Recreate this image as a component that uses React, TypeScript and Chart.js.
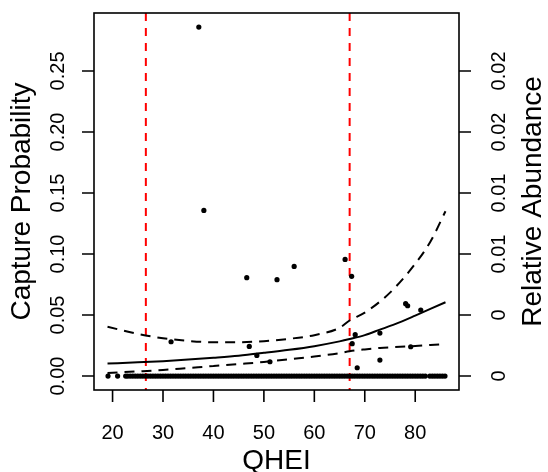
import React, { useEffect, useRef } from "react";
import { Chart, registerables } from "chart.js";

Chart.register(...registerables);

// ---- data ----
const xTicks = [20, 30, 40, 50, 60, 70, 80];
const leftTicks = [0, 0.05, 0.1, 0.15, 0.2, 0.25];
const leftTickLabels = ["0.00", "0.05", "0.10", "0.15", "0.20", "0.25"];
const rightTickLabels = ["0", "0", "0.01", "0.01", "0.02", "0.02"];
const thresholds = [26.6, 67.0];

// observed sites with a capture (QHEI, capture probability)
const hitQHEI = [37.1, 38.1, 46.6, 52.6, 56.0, 66.1, 67.4, 31.6, 47.1, 48.6, 51.2, 68.1, 67.5, 68.5, 73.0, 73.0, 78.1, 78.5, 81.1, 79.1];
const hitProb = [0.286, 0.1357, 0.0806, 0.079, 0.0898, 0.0956, 0.0817, 0.0281, 0.0243, 0.0169, 0.0117, 0.0339, 0.0265, 0.0068, 0.0352, 0.0131, 0.0593, 0.0576, 0.0541, 0.024];

// sites with no capture (QHEI)
const zeroQHEI = [
  19.1, 21.0, 22.6, 23.0, 23.5, 24.0, 24.5, 25.0, 25.5, 26.0, 26.5, 27.0, 27.5, 28.0, 28.5, 29.0, 29.5,
  30.0, 30.5, 31.0, 31.5, 32.0, 32.5, 33.0, 33.5, 34.0, 34.5, 35.0, 35.5, 36.0, 36.5, 37.0, 37.5,
  38.0, 38.5, 39.0, 39.5, 40.0, 40.5, 41.0, 41.5, 42.0, 42.5, 43.0, 43.5, 44.0, 44.5, 45.0, 45.5,
  46.0, 46.5, 47.0, 47.5, 48.0, 48.5, 49.0, 49.5, 50.0, 50.5, 51.0, 51.5, 52.0, 52.5, 53.0, 53.5,
  54.0, 54.5, 55.0, 55.5, 56.0, 56.5, 57.0, 57.5, 58.0, 58.5, 59.0, 59.5, 60.0, 60.5, 61.0, 61.5,
  62.0, 62.5, 63.0, 63.5, 64.0, 64.5, 65.0, 65.5, 66.0, 66.5, 67.0, 67.5, 68.0, 68.5, 69.0, 69.5,
  70.0, 70.5, 71.0, 71.5, 72.0, 72.5, 73.0, 73.5, 74.0, 74.5, 75.0, 75.5, 76.0, 76.5, 77.0, 77.5,
  78.0, 78.5, 79.0, 79.5, 80.0, 80.5, 81.0, 81.5, 82.0, 82.9, 83.4, 83.9, 84.4, 84.9, 85.4, 85.9,
];

// fitted curve and confidence band
const curveQHEI = [19, 25, 30, 35, 40, 45, 50, 55, 60, 65, 67, 70, 73, 76, 80, 83, 86];
const fitProb = [0.0102, 0.0112, 0.0122, 0.0135, 0.015, 0.0167, 0.019, 0.0215, 0.0245, 0.0284, 0.0303, 0.0335, 0.038, 0.0425, 0.0495, 0.055, 0.0605];
const upperProb = [0.0404, 0.0345, 0.031, 0.0288, 0.0277, 0.0277, 0.0286, 0.0305, 0.0335, 0.0395, 0.0455, 0.052, 0.061, 0.0725, 0.092, 0.11, 0.135];
const lowerProb = [0.0025, 0.0038, 0.005, 0.0066, 0.0082, 0.0098, 0.0115, 0.0138, 0.016, 0.0188, 0.0203, 0.0218, 0.023, 0.0238, 0.0246, 0.0254, 0.0262];

const FONT = '"Liberation Sans", Arial, Helvetica, sans-serif';

const axesPlugin = {
  id: "rAxes",
  afterDraw(chart: any) {
    const { ctx, chartArea: a, scales } = chart;
    const xs = scales.x;
    const ys = scales.y;
    ctx.save();
    ctx.strokeStyle = "#000";
    ctx.fillStyle = "#000";
    ctx.lineWidth = 1.6;
    ctx.strokeRect(a.left, a.top, a.right - a.left, a.bottom - a.top);
    // x axis
    ctx.font = `20px ${FONT}`;
    ctx.textAlign = "center";
    ctx.textBaseline = "alphabetic";
    ctx.beginPath();
    xTicks.forEach((t) => {
      const px = xs.getPixelForValue(t);
      ctx.moveTo(px, a.bottom);
      ctx.lineTo(px, a.bottom + 12);
    });
    ctx.stroke();
    xTicks.forEach((t) => {
      ctx.fillText(String(t), xs.getPixelForValue(t), 439);
    });
    // y ticks both sides
    ctx.beginPath();
    leftTicks.forEach((t) => {
      const py = ys.getPixelForValue(t);
      ctx.moveTo(a.left, py);
      ctx.lineTo(a.left - 12, py);
      ctx.moveTo(a.right, py);
      ctx.lineTo(a.right + 12, py);
    });
    ctx.stroke();
    leftTicks.forEach((t, i) => {
      const py = ys.getPixelForValue(t);
      ctx.save();
      ctx.translate(63.5, py);
      ctx.rotate(-Math.PI / 2);
      ctx.fillText(leftTickLabels[i], 0, 0);
      ctx.restore();
      ctx.save();
      ctx.translate(505, py);
      ctx.rotate(-Math.PI / 2);
      ctx.fillText(rightTickLabels[i], 0, 0);
      ctx.restore();
    });
    // titles
    ctx.font = `28px ${FONT}`;
    ctx.fillText("QHEI", (a.left + a.right) / 2, 469);
    const cy = (a.top + a.bottom) / 2;
    ctx.save();
    ctx.translate(30, cy);
    ctx.rotate(-Math.PI / 2);
    ctx.fillText("Capture Probability", 0, 0);
    ctx.restore();
    ctx.save();
    ctx.translate(541, cy);
    ctx.rotate(-Math.PI / 2);
    ctx.fillText("Relative Abundance", 0, 0);
    ctx.restore();
    ctx.restore();
  },
  beforeDatasetsDraw(chart: any) {
    const { ctx, chartArea: a, scales } = chart;
    ctx.save();
    ctx.strokeStyle = "#ff0000";
    ctx.lineWidth = 2;
    ctx.setLineDash([8, 7]);
    thresholds.forEach((t) => {
      const px = scales.x.getPixelForValue(t);
      ctx.beginPath();
      ctx.moveTo(px, a.top);
      ctx.lineTo(px, a.bottom);
      ctx.stroke();
    });
    ctx.restore();
  },
};

export default function App() {
  const ref = useRef<HTMLCanvasElement>(null);
  useEffect(() => {
    if (!ref.current) return;
    const pts = [
      ...zeroQHEI.map((x) => ({ x, y: 0 })),
      ...hitQHEI.map((x, i) => ({ x, y: hitProb[i] })),
    ];
    const line = (vals: number[]) => curveQHEI.map((x, i) => ({ x, y: vals[i] }));
    const chart = new Chart(ref.current, {
      type: "scatter",
      data: {
        datasets: [
          {
            label: "sites",
            data: pts,
            pointRadius: 2.6,
            pointBackgroundColor: "#000",
            pointBorderColor: "#000",
            pointBorderWidth: 0,
            showLine: false,
          },
          {
            label: "fit",
            data: line(fitProb),
            showLine: true,
            borderColor: "#000",
            borderWidth: 2,
            pointRadius: 0,
            cubicInterpolationMode: "monotone",
          },
          {
            label: "upper",
            data: line(upperProb),
            showLine: true,
            borderColor: "#000",
            borderWidth: 2,
            borderDash: [10, 7],
            pointRadius: 0,
            cubicInterpolationMode: "monotone",
          },
          {
            label: "lower",
            data: line(lowerProb),
            showLine: true,
            borderColor: "#000",
            borderWidth: 2,
            borderDash: [10, 7],
            pointRadius: 0,
            cubicInterpolationMode: "monotone",
          },
        ] as any,
      },
      options: {
        animation: false,
        responsive: false,
        events: [],
        layout: { padding: { left: 94, top: 13, right: 89, bottom: 82 } },
        plugins: { legend: { display: false }, tooltip: { enabled: false } },
        scales: {
          x: { type: "linear", min: 16.32, max: 88.68, display: false },
          y: { type: "linear", min: -0.01144, max: 0.2975, display: false },
        },
      },
      plugins: [axesPlugin],
    });
    return () => chart.destroy();
  }, []);
  return (
    <div style={{ position: "fixed", left: 0, top: 0, width: 548, height: 472, background: "#fff" }}>
      <canvas ref={ref} width={548} height={472} />
    </div>
  );
}
